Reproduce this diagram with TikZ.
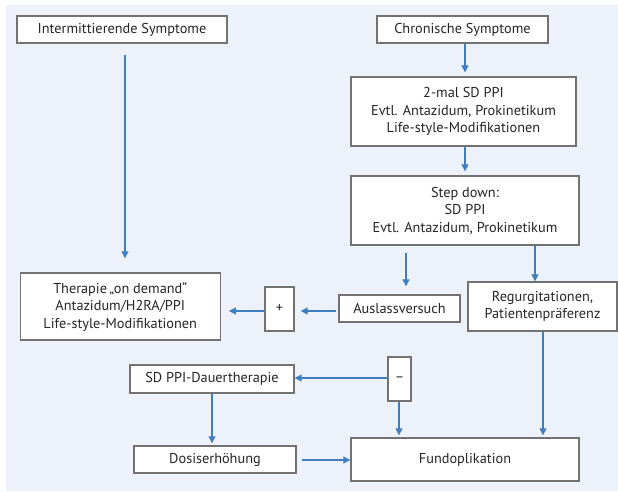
\documentclass[tikz,border=0pt]{standalone}
\usepackage{fontspec}
\setmainfont{PT Sans}
\usetikzlibrary{arrows.meta}
\definecolor{bgc}{HTML}{EDF2FA}
\definecolor{boxc}{HTML}{727272}
\definecolor{arrc}{HTML}{3F7FC0}
\definecolor{txtc}{HTML}{262626}
\tikzset{
  box/.style={draw=boxc, line width=1.4pt, fill=white, inner sep=0pt, text=txtc,
    align=center, font=\fontsize{14.3}{17.5}\selectfont},
  arr/.style={draw=arrc, line width=1.1pt, -{Triangle[length=7pt,width=7pt]}},
}
\begin{document}
\begin{tikzpicture}[x=1pt,y=-1pt]
\useasboundingbox (0,0) rectangle (618,491);
\fill[bgc] (6,5) rectangle (618,491);
% nodes
\node[box, minimum width=210, minimum height=27] (int) at (122,29.5) {Intermittierende Symptome};
\node[box, minimum width=171, minimum height=27] (chron) at (462.5,29.5) {Chronische Symptome};
\node[box, minimum width=225, minimum height=69] (twomal) at (463.5,111.5) {2-mal SD PPI\\Evtl. Antazidum, Prokinetikum\\Life-style-Modifikationen};
\node[box, minimum width=228, minimum height=69] (stepd) at (465,210.5) {Step down:\\SD PPI\\Evtl. Antazidum, Prokinetikum};
\node[box, minimum width=200, minimum height=67] (ther) at (120.25,306.5) {Therapie\,„on demand“\\Antazidum/H2RA/PPI\\Life-style-Modifikationen};
\node[box, minimum width=29, minimum height=44] (plus) at (279.5,309) {+};
\node[box, minimum width=121, minimum height=27] (ausl) at (399.5,308.5) {Auslassversuch};
\node[box, minimum width=149, minimum height=49] (regurg) at (542.5,306.5) {Regurgitationen,\\Patientenpräferenz};
\node[box, minimum width=23, minimum height=44] (minus) at (399.5,379) {–};
\node[box, minimum width=164, minimum height=28] (sdppi) at (212,379) {SD PPI-Dauertherapie};
\node[box, minimum width=162, minimum height=27] (dosis) at (215,459.5) {Dosiserhöhung};
\node[box, minimum width=228, minimum height=43] (fundo) at (465,459.5) {Fundoplikation};
% connectors
\draw[arr, shorten <=11pt, shorten >=14pt] (int.south -| 125,0) -- (ther.north -| 125,0);
\draw[arr, shorten >=4pt] (chron.south -| 465,0) -- (twomal.north -| 465,0);
\draw[arr, shorten >=4pt] (twomal.south -| 465,0) -- (stepd.north -| 465,0);
\draw[arr, shorten <=7pt, shorten >=8pt] (stepd.south -| 406,0) -- (ausl.north -| 406,0);
\draw[arr] (stepd.south -| 535,0) -- (regurg.north -| 535,0);
\draw[arr, shorten <=2pt, shorten >=6pt] (ausl.west |- 0,311) -- (plus.east |- 0,311);
\draw[arr, shorten >=8pt] (plus.west |- 0,311) -- (ther.east |- 0,311);
\draw[arr] (minus.west |- 0,378) -- (sdppi.east |- 0,378);
\draw[arr, shorten >=2pt] (minus.south -| 399,0) -- (fundo.north -| 399,0);
\draw[arr, shorten >=2pt] (regurg.south -| 543,0) -- (fundo.north -| 543,0);
\draw[arr, shorten >=2pt] (sdppi.south -| 212,0) -- (dosis.north -| 212,0);
\draw[arr, shorten <=5pt] (dosis.east |- 0,460) -- (fundo.west |- 0,460);
\end{tikzpicture}
\end{document}
